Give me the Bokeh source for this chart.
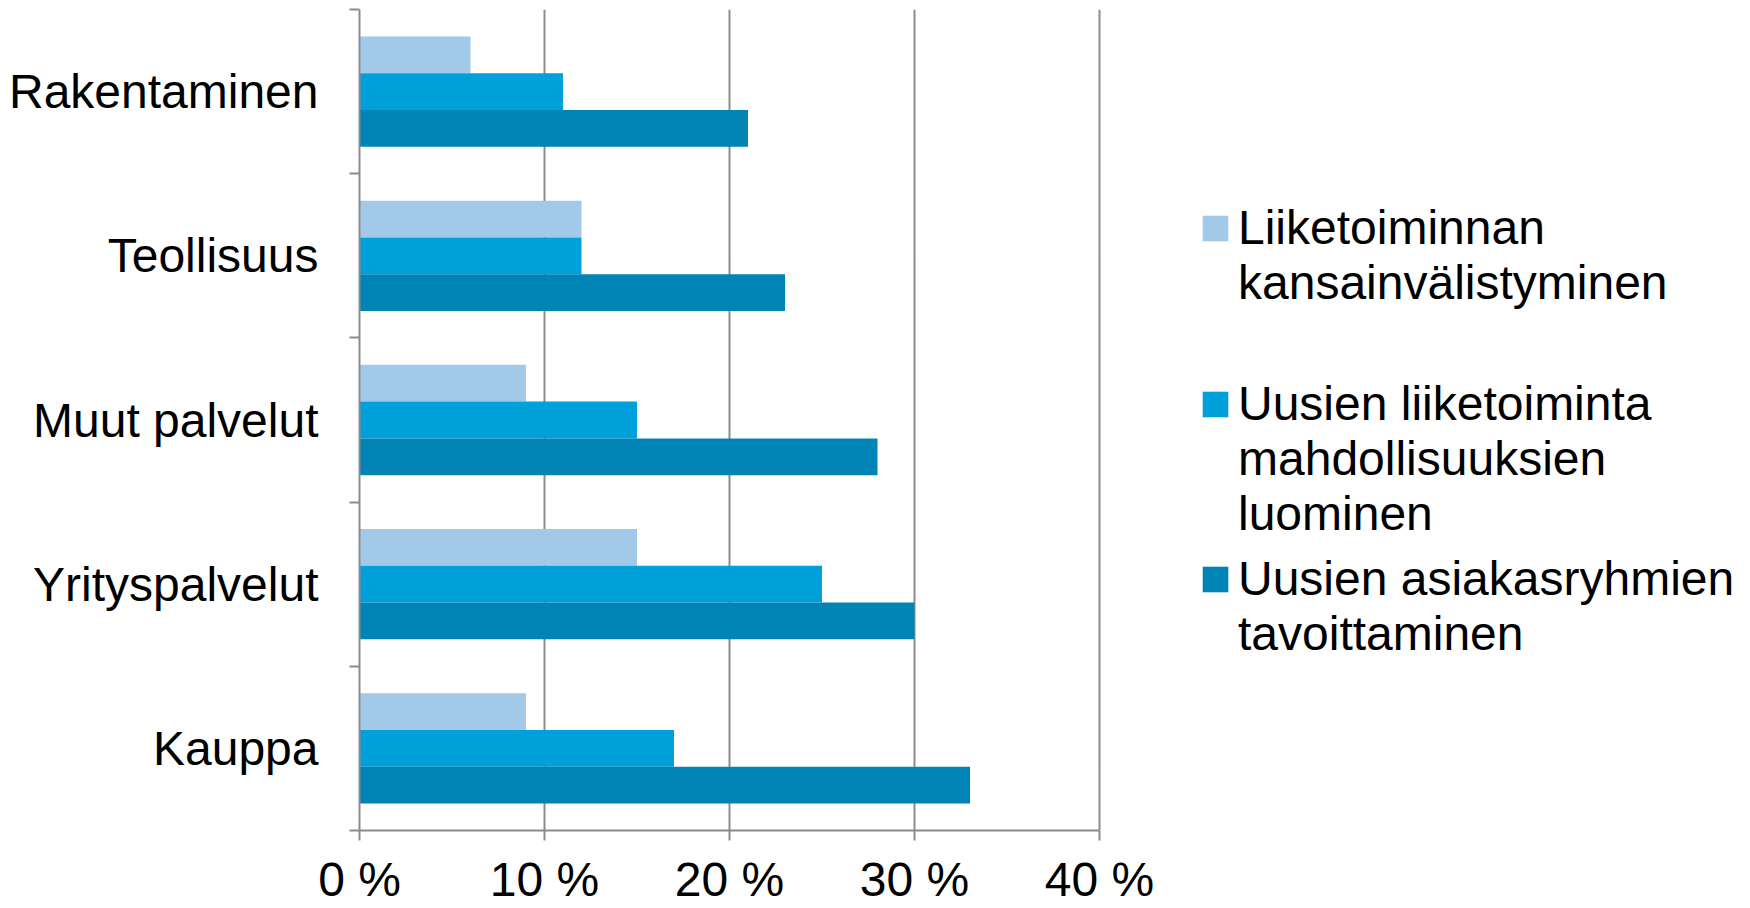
from bokeh.plotting import figure
from bokeh.models import Range1d, FixedTicker, Legend, LegendItem, ColumnDataSource
from bokeh.embed import file_html
from bokeh.resources import INLINE

categories = ["Rakentaminen", "Teollisuus", "Muut palvelut", "Yrityspalvelut", "Kauppa"]
kansainvalistyminen = [6, 12, 9, 15, 9]
mahdollisuudet = [11, 12, 15, 25, 17]
asiakasryhmat = [21, 23, 28, 30, 33]
# leading empty lines keep each legend square level with the first line of its label
series_labels = [
    "\nLiiketoiminnan\nkansainvälistyminen",
    "\n\nUusien liiketoiminta\nmahdollisuuksien\nluominen",
    "\nUusien asiakasryhmien\ntavoittaminen",
]
x_ticks = [0, 10, 20, 30, 40]
x_tick_labels = ["0 %", "10 %", "20 %", "30 %", "40 %"]

colors = ["#A3C9E9", "#00A0DA", "#0083B5"]
FONT = "Liberation Sans"
GRID = "#8C8C8C"

W, H = 1750, 908
LEFT, TOP, BOTTOM = 359, 9, 76
AXIS_LEN = 740          # pixel length of the 0-40 % axis
frame_w = W - LEFT
frame_bottom = H - BOTTOM
x_end = x_ticks[-1] * frame_w / AXIS_LEN   # frame extends right to hold the legend

p = figure(width=W, height=H, output_backend="svg", toolbar_location=None,
           x_range=Range1d(0, x_end), y_range=Range1d(5, 0),
           min_border_left=LEFT, min_border_right=0, min_border_top=TOP, min_border_bottom=BOTTOM)
p.outline_line_color = None

n = len(categories)
centers = [i + 0.5 for i in range(n)]
bar_h = 0.224
series = [kansainvalistyminen, mahdollisuudet, asiakasryhmat]
offsets = [-bar_h, 0.0, bar_h]
renderers = []
for vals, off, col in zip(series, offsets, colors):
    src = ColumnDataSource(dict(y=[c + off for c in centers], right=vals))
    r = p.hbar(y="y", right="right", left=0, height=bar_h, source=src,
               fill_color=col, line_color=None)
    renderers.append(r)

# x axis
p.xaxis.axis_label = None
p.xaxis.bounds = (x_ticks[0], x_ticks[-1])
p.xaxis.ticker = FixedTicker(ticks=x_ticks)
p.xaxis.major_label_overrides = {t: l for t, l in zip(x_ticks, x_tick_labels)}
p.xaxis.axis_line_color = GRID
p.xaxis.axis_line_width = 2
p.xaxis.major_tick_line_color = GRID
p.xaxis.major_tick_line_width = 2
p.xaxis.major_tick_out = 10
p.xaxis.major_tick_in = 0
p.xaxis.minor_tick_line_color = None
p.xaxis.minor_tick_out = 0
p.xaxis.minor_tick_in = 0
p.xaxis.major_label_text_font = FONT
p.xaxis.major_label_text_font_size = "48px"
p.xaxis.major_label_text_color = "black"
p.xaxis.major_label_standoff = 12

# y axis
p.yaxis.axis_label = None
p.yaxis.ticker = FixedTicker(ticks=centers, minor_ticks=[0, 1, 2, 3, 4, 5])
p.yaxis.major_label_overrides = {c: l for c, l in zip(centers, categories)}
p.yaxis.axis_line_color = GRID
p.yaxis.axis_line_width = 2
p.yaxis.major_tick_line_color = None
p.yaxis.major_tick_out = 0
p.yaxis.major_tick_in = 0
p.yaxis.minor_tick_line_color = GRID
p.yaxis.minor_tick_line_width = 2
p.yaxis.minor_tick_out = 10
p.yaxis.minor_tick_in = 0
p.yaxis.major_label_text_font = FONT
p.yaxis.major_label_text_font_size = "48px"
p.yaxis.major_label_text_color = "black"
p.yaxis.major_label_standoff = 31

p.xgrid.ticker = FixedTicker(ticks=x_ticks)
p.xgrid.grid_line_color = GRID
p.xgrid.grid_line_width = 2
p.ygrid.grid_line_color = None

# one legend block per series, each placed so its square sits beside the first line
FS = 48
LINE_H = 56
legend_x = 840
first_line_centers = [228, 403, 579]
for lab, r, cy in zip(series_labels, renderers, first_line_centers):
    n_lines = lab.count("\n") + 1
    block_h = n_lines * LINE_H
    y_off = frame_bottom - (cy + block_h / 2)
    lg = Legend(items=[LegendItem(label=lab, renderers=[r])],
                location=(legend_x, round(y_off)), orientation="vertical",
                glyph_width=32, glyph_height=32, label_standoff=7,
                label_text_font=FONT, label_text_font_size=f"{FS}px",
                label_text_color="black", label_text_line_height=LINE_H / FS,
                spacing=0, padding=0, margin=0,
                border_line_color=None, background_fill_alpha=0)
    p.add_layout(lg, "center")

open("out.html", "w").write(file_html(p, INLINE))
